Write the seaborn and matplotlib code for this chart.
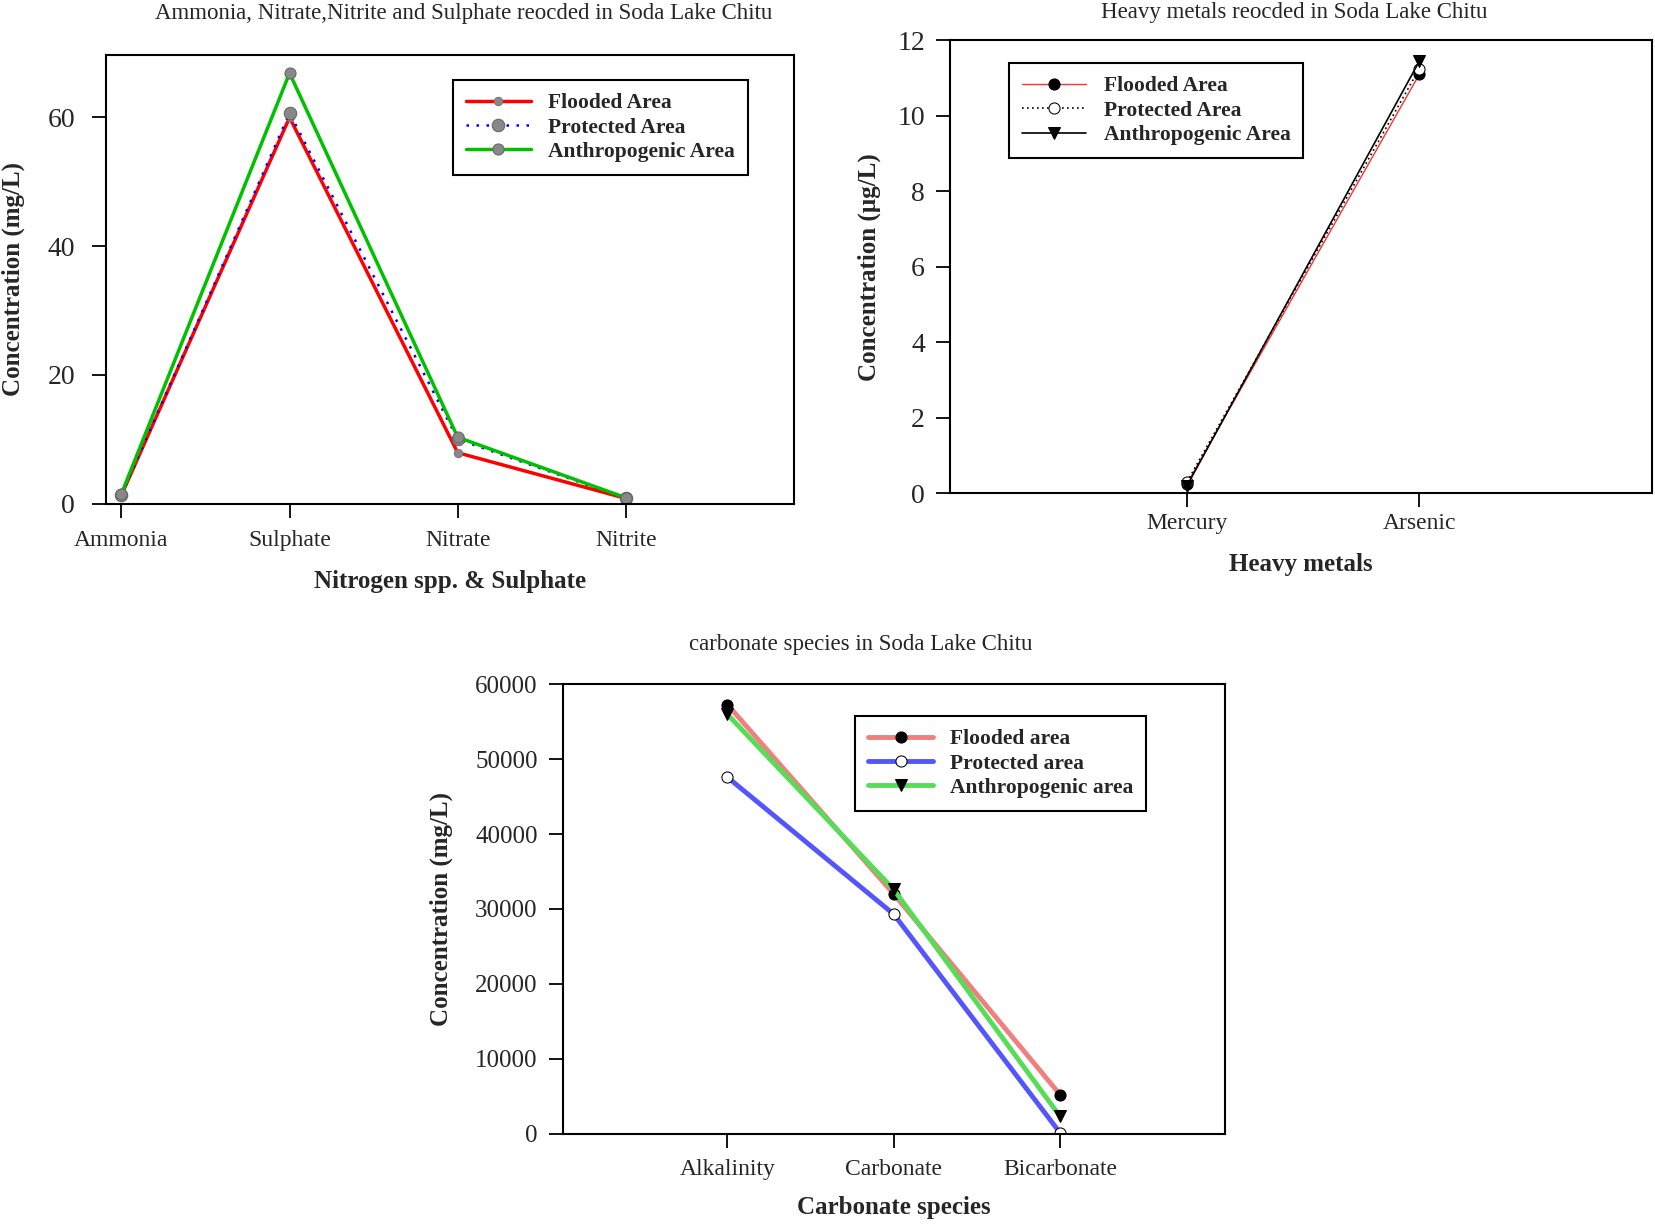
import numpy as np
import seaborn as sns
import matplotlib.pyplot as plt
import pandas as pd

# panel 1: nitrogen species & sulphate (mg/L)
n_cats = ["Ammonia", "Sulphate", "Nitrate", "Nitrite"]
n_flooded = [1.3, 60.0, 7.9, 0.8]
n_protected = [1.3, 60.7, 10.0, 0.8]
n_anthro = [1.5, 66.9, 10.3, 0.9]

# panel 2: heavy metals (ug/L)
hm_cats = ["Mercury", "Arsenic"]
hm_flooded = [0.25, 11.1]
hm_protected = [0.3, 11.25]
hm_anthro = [0.2, 11.45]

# panel 3: carbonate species (mg/L)
c_cats = ["Alkalinity", "Carbonate", "Bicarbonate"]
c_flooded = [57300, 32000, 5200]
c_protected = [47600, 29300, 100]
c_anthro = [56000, 32600, 2300]

sns.set_style("white")
plt.rcParams['font.family'] = ['Liberation Serif', 'DejaVu Serif']

fig = plt.figure(figsize=(16.55, 12.24), dpi=100)
a1 = fig.add_axes([0.0638, 0.5886, 0.416, 0.3664])
a2 = fig.add_axes([0.574, 0.597, 0.424, 0.370])
a3 = fig.add_axes([0.340, 0.0739, 0.400, 0.367])

def style_ax(ax, ysize, ypad=6, xpad=9):
    for s in ax.spines.values():
        s.set_color("black")
        s.set_linewidth(1.5)
    ax.tick_params(axis="both", direction="out", length=10, width=1.3,
                   bottom=True, left=True, color="black")
    ax.tick_params(axis="y", labelsize=ysize, pad=ypad)
    ax.tick_params(axis="x", labelsize=17, pad=xpad)

def add_legend(ax, anchor):
    leg = ax.legend(loc="upper left", bbox_to_anchor=anchor, fancybox=False,
                    edgecolor="black", framealpha=1, borderaxespad=0,
                    prop={"weight": "bold", "size": 15.5},
                    handlelength=3.0, borderpad=0.6, labelspacing=0.2)
    leg.get_frame().set_linewidth(1.5)

# ---- panel 1
sns.lineplot(x=n_cats, y=n_flooded, ax=a1, color="#ff0000", lw=2.5, sort=False,
             marker="o", markersize=6, markerfacecolor="#888888",
             markeredgecolor="#777777", label="Flooded Area")
sns.lineplot(x=n_cats, y=n_protected, ax=a1, color="#0000ff", lw=1.8, sort=False,
             linestyle=(0, (1, 3)), marker="o", markersize=9,
             markerfacecolor="#888888", markeredgecolor="#666666",
             label="Protected Area")
sns.lineplot(x=n_cats, y=n_anthro, ax=a1, color="#00c000", lw=2.5, sort=False,
             marker="o", markersize=8, markerfacecolor="#888888",
             markeredgecolor="#666666", label="Anthropogenic Area")
a1.set_xlim(-0.094, 4.0)
a1.set_ylim(0, 69.7)
a1.set_yticks([0, 20, 40, 60])
style_ax(a1, 20, ypad=12, xpad=9)
a1.set_title("Ammonia, Nitrate,Nitrite and Sulphate reocded in Soda Lake Chitu",
             fontsize=16.5, pad=26, x=0.52)
a1.set_xlabel("Nitrogen spp. & Sulphate", fontsize=18, fontweight="bold", labelpad=14)
a1.set_ylabel("Concentration (mg/L)", fontsize=18, fontweight="bold", labelpad=16)
add_legend(a1, (0.505, 0.944))

# ---- panel 2
sns.lineplot(x=hm_cats, y=hm_flooded, ax=a2, color="#ff3030", lw=1.0, sort=False,
             marker="o", markersize=8, markerfacecolor="black",
             markeredgecolor="black", label="Flooded Area")
sns.lineplot(x=hm_cats, y=hm_protected, ax=a2, color="black", lw=1.2, sort=False,
             linestyle=(0, (1, 2)), marker="o", markersize=8,
             markerfacecolor="white", markeredgecolor="black",
             label="Protected Area")
sns.lineplot(x=hm_cats, y=hm_anthro, ax=a2, color="black", lw=1.2, sort=False,
             marker="v", markersize=9, markerfacecolor="black",
             markeredgecolor="black", label="Anthropogenic Area")
a2.set_xlim(-1.02, 2.0)
a2.set_ylim(0, 12)
a2.set_yticks([0, 2, 4, 6, 8, 10, 12])
style_ax(a2, 20, ypad=8, xpad=4)
a2.set_title("Heavy metals reocded in Soda Lake Chitu", fontsize=16.5, pad=16, x=0.49)
a2.set_xlabel("Heavy metals", fontsize=18, fontweight="bold", labelpad=14)
a2.set_ylabel("Concentration (\u00b5g/L)", fontsize=18, fontweight="bold", labelpad=12)
add_legend(a2, (0.084, 0.949))

# ---- panel 3
sns.lineplot(x=c_cats, y=c_flooded, ax=a3, color="#f08080", lw=3.5, sort=False,
             marker="o", markersize=8, markerfacecolor="black",
             markeredgecolor="black", label="Flooded area")
sns.lineplot(x=c_cats, y=c_protected, ax=a3, color="#5555ff", lw=3.5, sort=False,
             marker="o", markersize=8, markerfacecolor="white",
             markeredgecolor="black", label="Protected area")
sns.lineplot(x=c_cats, y=c_anthro, ax=a3, color="#55dd55", lw=3.5, sort=False,
             marker="v", markersize=9, markerfacecolor="black",
             markeredgecolor="black", label="Anthropogenic area")
a3.set_xlim(-0.99, 2.99)
a3.set_ylim(0, 60000)
a3.set_yticks(np.arange(0, 60001, 10000))
style_ax(a3, 18, ypad=8, xpad=8)
a3.set_title("carbonate species in Soda Lake Chitu", fontsize=16.5, pad=25, x=0.45)
a3.set_xlabel("Carbonate species", fontsize=18, fontweight="bold", labelpad=12)
a3.set_ylabel("Concentration (mg/L)", fontsize=18, fontweight="bold", labelpad=16)
add_legend(a3, (0.442, 0.929))

fig.savefig("out.png", dpi=100)
